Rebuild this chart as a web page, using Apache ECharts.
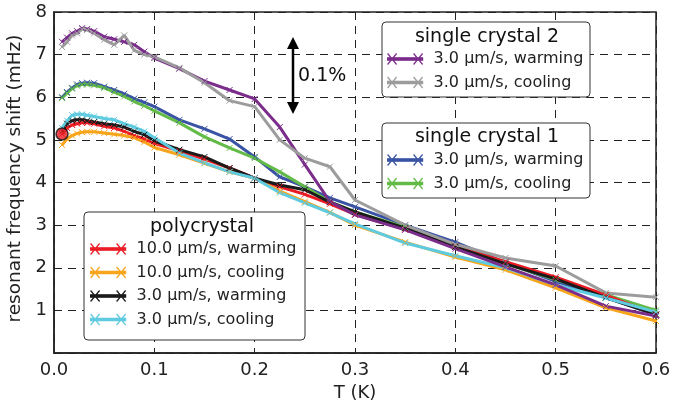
<!DOCTYPE html>
<html>
<head>
<meta charset="utf-8">
<script src="https://cdn.jsdelivr.net/npm/echarts@6/dist/echarts.min.js"></script>
<style>
  html, body { margin: 0; padding: 0; background: #fff; }
  #chart { width: 700px; height: 401px; }
</style>
</head>
<body>
<div id="chart"></div>
<script>
// temperature points (K), shared by every run
const temps = [0.008, 0.013, 0.018, 0.023, 0.028, 0.033, 0.04, 0.05, 0.06, 0.07, 0.08, 0.09, 0.1,
  0.125, 0.15, 0.175, 0.2, 0.225, 0.25, 0.275, 0.3, 0.35, 0.4, 0.45, 0.5, 0.55, 0.6];

// single crystal 2
const sc2Warming = [7.3, 7.4, 7.5, 7.55, 7.62, 7.6, 7.55, 7.42, 7.36, 7.3, 7.23, 7.07, 6.92,
  6.67, 6.38, 6.17, 5.96, 5.3, 4.42, 3.55, 3.24, 2.89, 2.45, 2.02, 1.6, 1.1, 0.87];
const sc2Cooling = [7.18, 7.3, 7.45, 7.5, 7.6, 7.58, 7.5, 7.35, 7.23, 7.45, 7.1, 7.0, 6.95,
  6.69, 6.34, 5.92, 5.78, 5.0, 4.57, 4.37, 3.59, 3.0, 2.55, 2.23, 2.04, 1.41, 1.31];
// single crystal 1
const sc1Warming = [6.0, 6.12, 6.22, 6.3, 6.33, 6.34, 6.33, 6.25, 6.17, 6.08, 5.97, 5.88, 5.78,
  5.47, 5.26, 5.02, 4.6, 4.13, 3.9, 3.64, 3.43, 3.0, 2.6, 2.12, 1.68, 1.3, 0.9];
const sc1Cooling = [5.98, 6.1, 6.2, 6.27, 6.3, 6.3, 6.28, 6.22, 6.12, 6.02, 5.9, 5.8, 5.68,
  5.4, 5.07, 4.81, 4.57, 4.25, 3.9, 3.55, 3.31, 2.95, 2.5, 2.1, 1.72, 1.37, 1.0];
// polycrystal
const poly10Warming = [5.14, 5.28, 5.35, 5.38, 5.4, 5.4, 5.38, 5.32, 5.28, 5.2, 5.1, 5.02, 4.92,
  4.74, 4.55, 4.34, 4.1, 3.9, 3.72, 3.5, 3.25, 2.9, 2.5, 2.14, 1.78, 1.36, 0.9];
const poly10Cooling = [4.88, 5.02, 5.1, 5.15, 5.18, 5.19, 5.19, 5.16, 5.13, 5.1, 5.05, 4.95, 4.82,
  4.65, 4.45, 4.25, 4.1, 3.8, 3.55, 3.3, 3.0, 2.6, 2.25, 1.95, 1.53, 1.06, 0.75];
const poly3Warming = [5.2, 5.38, 5.45, 5.47, 5.47, 5.45, 5.42, 5.38, 5.35, 5.3, 5.2, 5.12, 4.98,
  4.77, 4.6, 4.34, 4.1, 3.94, 3.83, 3.54, 3.31, 2.93, 2.49, 2.09, 1.74, 1.3, 0.9];
const poly3Cooling = [5.28, 5.45, 5.58, 5.6, 5.6, 5.58, 5.55, 5.5, 5.47, 5.38, 5.3, 5.2, 5.05,
  4.69, 4.46, 4.25, 4.1, 3.76, 3.52, 3.29, 3.03, 2.58, 2.28, 2.0, 1.6, 1.29, 0.96];

const xTickLabels = ['0.0', '0.1', '0.2', '0.3', '0.4', '0.5', '0.6'];
const yTickLabels = ['', '1', '2', '3', '4', '5', '6', '7', '8'];

const legendText = {
  sc2w: '3.0 μm/s, warming', sc2c: '3.0 μm/s, cooling',
  sc1w: '3.0 μm/s, warming', sc1c: '3.0 μm/s, cooling',
  p10w: '10.0 μm/s, warming', p10c: '10.0 μm/s, cooling',
  p3w: '3.0 μm/s, warming', p3c: '3.0 μm/s, cooling'
};

const FONT = 'DejaVu Sans';
const cross = 'path://M0,0L10,10M10,0L0,10';
const legendIcon = 'path://M0,0L9,11M9,0L0,11M26,0L35,11M35,0L26,11M0,4.3H35V6.7H0Z';

function pairs(vals) {
  return vals.map((v, i) => [temps[i], v]);
}
function lineSeries(name, vals, color) {
  return {
    name: name,
    type: 'line',
    data: pairs(vals),
    symbol: cross,
    symbolSize: 6,
    showAllSymbol: true,
    lineStyle: { color: color, width: 3 },
    itemStyle: { color: color, borderColor: color, borderWidth: 1 },
    emphasis: { disabled: true },
    animation: false
  };
}
function legendBlock(names, left, top) {
  return {
    data: names,
    left: left,
    top: top,
    orient: 'vertical',
    padding: 0,
    itemGap: 5.5,
    itemWidth: 35,
    itemHeight: 11,
    icon: legendIcon,
    selectedMode: false,
    z: 12,
    itemStyle: { borderWidth: 1.2 },
    formatter: n => legendText[n],
    textStyle: { fontFamily: FONT, fontSize: 16, color: '#222', lineHeight: 18, padding: [0, 0, 0, 6] }
  };
}

const chart = echarts.init(document.getElementById('chart'));
chart.setOption({
  animation: false,
  grid: { left: 54, right: 44, top: 12, bottom: 48, show: true, borderColor: '#222', borderWidth: 1.5, outerBoundsMode: 'none' },
  xAxis: {
    type: 'value', min: 0, max: 0.6, interval: 0.1,
    name: 'T (K)', nameLocation: 'middle', nameGap: 22,
    nameTextStyle: { fontFamily: FONT, fontSize: 18, color: '#222' },
    axisLine: { lineStyle: { color: '#222', width: 1.5 } },
    axisTick: { inside: true, length: 5, lineStyle: { color: '#222' } },
    axisLabel: { fontFamily: FONT, fontSize: 18, color: '#222', margin: 8,
      formatter: v => xTickLabels[Math.round(v * 10)] },
    splitLine: { show: true, lineStyle: { color: '#222', type: [8, 6], width: 1 } }
  },
  yAxis: {
    type: 'value', min: 0, max: 8, interval: 1,
    name: 'resonant frequency shift (mHz)', nameLocation: 'middle', nameGap: 28,
    nameTextStyle: { fontFamily: FONT, fontSize: 18.5, color: '#222', padding: [0, 0, 0, 8] },
    axisLine: { lineStyle: { color: '#222', width: 1.5 } },
    axisTick: { inside: true, length: 5, lineStyle: { color: '#222' } },
    axisLabel: { fontFamily: FONT, fontSize: 18, color: '#222', margin: 7,
      formatter: v => yTickLabels[Math.round(v)] },
    splitLine: { show: true, lineStyle: { color: '#222', type: [8, 6], width: 1 } }
  },
  legend: [
    legendBlock(['sc2w', 'sc2c'], 387, 50),
    legendBlock(['sc1w', 'sc1c'], 387, 151),
    legendBlock(['p10w', 'p10c', 'p3w', 'p3c'], 90, 240)
  ],
  graphic: [
    { type: 'rect', z: 10, shape: { x: 382, y: 22, width: 208, height: 75, r: 4 }, style: { fill: '#fff', stroke: '#333', lineWidth: 1 } },
    { type: 'rect', z: 10, shape: { x: 382, y: 123, width: 208, height: 75, r: 4 }, style: { fill: '#fff', stroke: '#333', lineWidth: 1 } },
    { type: 'rect', z: 10, shape: { x: 84, y: 212, width: 221, height: 128, r: 4 }, style: { fill: '#fff', stroke: '#333', lineWidth: 1 } },
    { type: 'text', z: 11, style: { x: 487, y: 37, text: 'single crystal 2', font: '19px "DejaVu Sans"', fill: '#111', align: 'center', verticalAlign: 'middle' } },
    { type: 'text', z: 11, style: { x: 487, y: 137, text: 'single crystal 1', font: '19px "DejaVu Sans"', fill: '#111', align: 'center', verticalAlign: 'middle' } },
    { type: 'text', z: 11, style: { x: 202, y: 227, text: 'polycrystal', font: '19px "DejaVu Sans"', fill: '#111', align: 'center', verticalAlign: 'middle' } },
    { type: 'line', z: 11, shape: { x1: 293, y1: 46, x2: 293, y2: 105 }, style: { stroke: '#000', lineWidth: 2.5 } },
    { type: 'polygon', z: 11, shape: { points: [[287, 49], [293, 37], [299, 49]] }, style: { fill: '#000' } },
    { type: 'polygon', z: 11, shape: { points: [[287, 102], [293, 114], [299, 102]] }, style: { fill: '#000' } },
    { type: 'text', z: 11, style: { x: 298, y: 76, text: '0.1%', font: '19px "DejaVu Sans"', fill: '#111', verticalAlign: 'middle' } }
  ],
  series: [
    lineSeries('sc1w', sc1Warming, '#3a53a4'),
    lineSeries('sc1c', sc1Cooling, '#62bb46'),
    lineSeries('p10w', poly10Warming, '#ec1c24'),
    lineSeries('p10c', poly10Cooling, '#f8a51c'),
    lineSeries('p3w', poly3Warming, '#1a1a1a'),
    lineSeries('p3c', poly3Cooling, '#5fcbe0'),
    lineSeries('sc2w', sc2Warming, '#7b2d8b'),
    lineSeries('sc2c', sc2Cooling, '#9c9c9c'),
    {
      name: 'start',
      type: 'scatter',
      data: [[temps[0], poly10Warming[0]]],
      symbol: 'circle',
      symbolSize: 12,
      itemStyle: { color: '#ec1c24', borderColor: '#111', borderWidth: 1.5 },
      z: 5,
      animation: false
    }
  ]
});
</script>
</body>
</html>
